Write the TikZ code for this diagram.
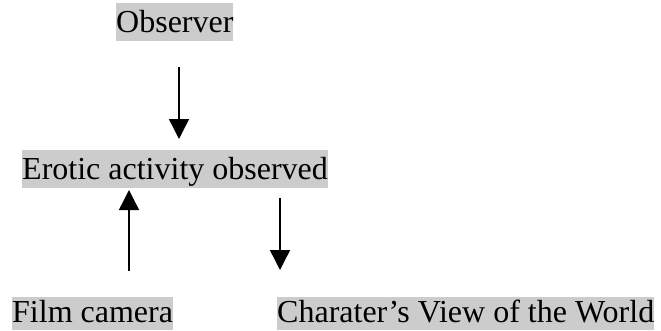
\documentclass[tikz,border=0pt]{standalone}
\usepackage{fontspec}
\setmainfont{Liberation Serif}
\usetikzlibrary{arrows.meta}
\definecolor{hlgray}{RGB}{204,204,204}
\begin{document}
\begin{tikzpicture}[x=1pt,y=-1pt,
  hl/.style={fill=hlgray,inner sep=0pt,anchor=base west,text height=29pt,text depth=9pt,font=\fontsize{32}{38}\selectfont},
  arr/.style={line width=1.4pt,-{Triangle[length=20pt,width=20pt]}}]
\useasboundingbox (0,0) rectangle (661,330);
\node[hl] (obs) at (116,32) {Observer};
\node[hl] (ero) at (22,179) {Erotic activity observed};
\node[hl,text height=25pt,text depth=7.5pt] (film) at (12,322) {Film camera};
\node[hl,text height=25pt,text depth=7.5pt] (view) at (277,322) {Charater’s View of the World};
\coordinate (a1s) at (179,67);
\coordinate (a1e) at (179,139);
\coordinate (a2s) at (129,271);
\coordinate (a2e) at (129,190);
\coordinate (a3s) at (280,198);
\coordinate (a3e) at (280,270);
\draw[arr] (a1s) -- (a1e);
\draw[arr] (a2s) -- (a2e);
\draw[arr] (a3s) -- (a3e);
\end{tikzpicture}
\end{document}
